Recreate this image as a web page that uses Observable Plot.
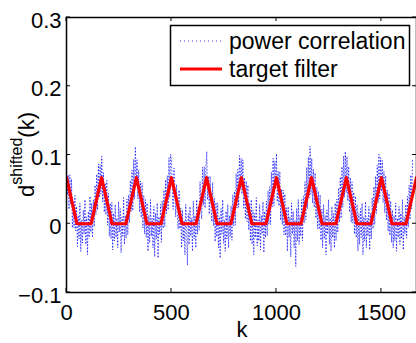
<!DOCTYPE html>
<html><head><meta charset="utf-8">
<script src="https://cdn.jsdelivr.net/npm/d3@7"></script>
<script src="https://cdn.jsdelivr.net/npm/@observablehq/plot@0.6"></script>
<style>
html,body{margin:0;padding:0;background:#fff;overflow:hidden;}
#chart svg{display:block;}
</style></head><body><div id="chart"></div>
<script>
const kStep = 4;
const powerCorr = [
.077,.042,.071,.021,.071,.028,.065,-.006,.032,-.006,.041,-.010,.025,
-.033,.012,-.022,.030,-.040,.005,-.028,.020,-.015,.035,-.030,.010,-.045,.018,-.020,.040,-.012,
.030,-.020,.035,-.004,.056,.013,.072,.020,.087,.038,.086,.043,
.098,.032,.074,.017,.059,.013,.063,-.002,.044,-.018,.030,-.022,.031,
-.038,.015,-.025,.028,-.020,.008,-.035,.032,-.012,.022,-.042,.010,-.018,.038,-.030,.012,
-.021,.036,-.016,.042,.002,.063,.018,.078,.019,.094,.036,.112,.055,
.093,.036,.078,.017,.062,.009,.059,-.006,.041,-.015,.035,-.020,
.030,-.040,.012,-.028,.035,-.018,.008,-.035,.025,-.048,.015,-.022,.030,-.050,.010,-.015,.028,
-.027,.033,-.007,.049,-.004,.064,.015,.070,.020,.096,.038,.101,
.092,.052,.021,.081,.051,.010,.057,.014,-.008,.049,-.007,.023,-.035,
.020,-.025,.005,-.045,.028,-.010,-.060,.015,-.030,.025,-.018,.008,-.040,.033,-.022,.012,-.035,
.035,-.015,.025,-.009,.061,.021,.007,.082,.027,.083,.023,.083,
.105,.035,.069,.014,.069,.028,.003,.060,-.003,.037,-.026,.031,-.019,
.030,-.035,.010,-.050,.022,-.015,.035,-.028,.005,-.040,.018,-.022,.028,-.035,.012,-.018,
.026,-.024,.042,-.003,.047,-.002,.073,.023,.079,.024,.099,.050,.095,
.043,.093,.023,.067,.007,.062,.003,.056,-.009,.030,-.025,.035,
-.030,.020,-.045,.015,-.020,.038,-.032,.005,-.025,.028,-.038,.012,-.015,.032,-.042,.018,-.020,
.033,-.017,.048,-.001,.054,-.001,.075,.025,.095,.026,.091,.051,
.102,.032,.076,.026,.076,.005,.050,-.001,.049,-.016,.043,-.017,.023,
-.040,.025,-.020,.010,-.048,.030,-.015,.018,-.035,.005,-.062,.022,-.025,.035,-.030,.012,-.018,
.035,-.025,.040,.001,.061,.006,.082,.022,.097,.038,.113,.043,
.095,.030,.079,.024,.074,.008,.053,-.007,.047,-.008,.042,-.024,.021,
-.035,.028,-.022,.012,-.045,.020,-.015,.035,-.030,.008,-.040,.025,-.020,.015,-.035,.030,
-.024,.036,-.013,.052,.002,.068,.008,.083,.024,.099,.039,.105,.045,
.098,.033,.083,.017,.067,.002,.061,.001,.046,-.015,.040,-.020,
.028,-.040,.015,-.030,.022,-.020,.030,-.045,.010,-.025,.032,-.035,.008,-.018,.025,-.038,.015,
-.022,.038,-.007,.054,-.001,.069,.015,.085,.030,.101,.036,.096,
.047,.092,.031,.076,.016,.070,.005,.049,-.011,.044,-.017,.033,-.027,
.020,-.035,.012,-.025,.030,-.040,.008,-.020,.025,-.030,.015,-.022,.035,-.038,.010,-.015,.028,
-.021,.040,-.005,.056,.006,.071,.022,.092
];
// target filter breakpoints
const targetK = [0,50,117,167,217,283,333,383,450,500,550,617,667,717,783,833,883,950,1000,1050,1117,1167,1217,1283,1333,1383,1450,1500,1550,1617,1667];
const targetVal = [0.067,0,0,0.067,0,0,0.067,0,0,0.067,0,0,0.067,0,0,0.067,0,0,0.067,0,0,0.067,0,0,0.067,0,0,0.067,0,0,0.067];
const xTicks = [0,500,1000,1500];
const xTickLabels = ["0","500","1000","1500"];
const yTicks = [-0.1,0,0.1,0.2,0.3];
const yTickLabels = ["\u22120.1","0","0.1","0.2","0.3"];
const seriesNames = ["power correlation","target filter"];
const seriesColors = ["#0000ff","#ff0000"];
const xLabel = "k";
const yLabelMain = "d", yLabelSup = "shifted", yLabelTail = "(k)";

const corrData = powerCorr.map((v,i)=>({k:i*kStep, v}));
const targetData = targetK.map((k,i)=>({k, v:targetVal[i]}));

const FONT = "'Liberation Sans', Arial, Helvetica, sans-serif";
const chart = Plot.plot({
  width:416, height:343,
  marginLeft:66, marginRight:0, marginTop:17, marginBottom:51,
  style:{fontFamily:FONT, background:"#fff", color:"#000"},
  x:{domain:[0,1667]},
  y:{domain:[-0.1,0.3]},
  marks:[
    Plot.line(corrData,{x:"k",y:"v",stroke:seriesColors[0],strokeWidth:0.7,strokeDasharray:"0.8,2.4",clip:true}),
    Plot.line(targetData,{x:"k",y:"v",stroke:seriesColors[1],strokeWidth:3.2,clip:true}),
    Plot.frame({stroke:"#000",strokeWidth:1.5}),
    Plot.axisX(xTicks,{anchor:"bottom",tickSize:0,tickPadding:12,fontSize:22,label:null,tickFormat:d=>xTickLabels[xTicks.indexOf(d)]}),
    Plot.axisY(yTicks,{anchor:"left",tickSize:0,tickPadding:5,fontSize:22,label:null,dy:3,tickFormat:d=>yTickLabels[yTicks.indexOf(d)]})
  ]
});
document.getElementById("chart").appendChild(chart);

const svg = d3.select(chart);
const sx = chart.scale("x"), sy = chart.scale("y");
const x0 = sx.apply(sx.domain[0]), x1 = sx.apply(sx.domain[1]);
const y0 = sy.apply(sy.domain[0]), y1 = sy.apply(sy.domain[1]);
const tk = svg.append("g").attr("stroke","#000").attr("stroke-width",1);
xTicks.forEach(t=>{
  const px = sx.apply(t);
  tk.append("line").attr("x1",px).attr("x2",px).attr("y1",y0).attr("y2",y0-4);
  tk.append("line").attr("x1",px).attr("x2",px).attr("y1",y1).attr("y2",y1+4);
});
yTicks.forEach(t=>{
  const py = sy.apply(t);
  tk.append("line").attr("x1",x0).attr("x2",x0+4).attr("y1",py).attr("y2",py);
  tk.append("line").attr("x1",x1).attr("x2",x1-4).attr("y1",py).attr("y2",py);
});

// legend
const lg = svg.append("g").attr("font-family",FONT).attr("text-anchor","start");
lg.append("rect").attr("x",170.5).attr("y",25.5).attr("width",239).attr("height",60)
  .attr("fill","#fff").attr("stroke","#000").attr("stroke-width",1.5);
lg.append("line").attr("x1",180).attr("x2",222).attr("y1",41).attr("y2",41)
  .attr("stroke",seriesColors[0]).attr("stroke-width",0.8).attr("stroke-dasharray","1,3");
lg.append("text").attr("x",229).attr("y",49).attr("font-size",23).attr("text-anchor","start").text(seriesNames[0]);
lg.append("line").attr("x1",180).attr("x2",222).attr("y1",69).attr("y2",69)
  .attr("stroke",seriesColors[1]).attr("stroke-width",3.2);
lg.append("text").attr("x",229).attr("y",77).attr("font-size",23).attr("text-anchor","start").text(seriesNames[1]);

// axis labels
svg.append("text").attr("x",(x0+x1)/2+1).attr("y",337).attr("text-anchor","middle")
  .attr("font-family",FONT).attr("font-size",22).text(xLabel);
const yl = svg.append("text").attr("transform",`translate(34,${(y0+y1)/2}) rotate(-90)`)
  .attr("text-anchor","middle").attr("font-family",FONT).attr("font-size",22);
yl.append("tspan").text(yLabelMain);
yl.append("tspan").attr("font-size",16).attr("dy",-12).text(yLabelSup);
yl.append("tspan").attr("dy",12).text(yLabelTail);
</script></body></html>
